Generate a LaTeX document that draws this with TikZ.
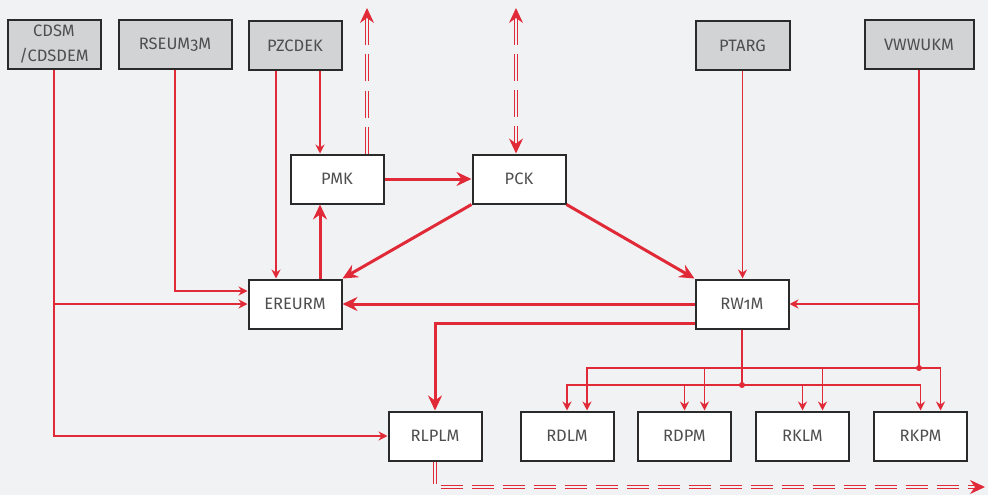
\documentclass[tikz,border=0pt]{standalone}
\usepackage{fontspec}
\setmainfont{Fira Sans}[Numbers=OldStyle]
\usetikzlibrary{arrows.meta,calc}
\definecolor{bgc}{HTML}{F1F2F4}
\definecolor{srcfill}{HTML}{D2D3D5}
\definecolor{boxline}{HTML}{2A2A2A}
\definecolor{lred}{HTML}{E12A38}
\definecolor{txt}{HTML}{4E4E4E}
\begin{document}
\begin{tikzpicture}[x=1pt,y=-1pt,
  box/.style={draw=boxline, line width=2pt, fill=white, minimum width=93pt,
    minimum height=49pt, inner sep=0pt, text=txt, align=center,
    font=\fontsize{16.5}{25}\selectfont},
  srcbox/.style={box, fill=srcfill},
  wire/.style={draw=lred, line width=1.4pt},
  feed/.style={wire, -{Stealth[length=9pt,width=9pt,inset=3pt]}},
  main/.style={draw=lred, line width=3pt},
  mainarr/.style={main, -{Stealth[length=15pt,width=14pt,inset=5pt]}},
  ext/.style={draw=lred, line width=1.2pt, double=bgc, double distance=1.1pt,
    dash pattern=on 27pt off 9pt},
  exttip/.style={-{Stealth[length=15pt,width=14pt,inset=5pt]}},
  extboth/.style={{Stealth[length=15pt,width=14pt,inset=5pt]}-{Stealth[length=15pt,width=14pt,inset=5pt]}},
  junction/.style={fill=lred},
]
% canvas
\fill[bgc] (0,0) rectangle (988,495);

% source boxes
\node[srcbox, minimum width=93pt] (cdsm) at (54,44.5) {CDSM\\/CDSDEM};
\node[srcbox, minimum width=113pt] (rseum) at (175,44.5) {RSEUM3M};
\node[srcbox] (pzcdek) at (295,45.5) {PZCDEK};
\node[srcbox, minimum width=94pt] (ptarg) at (742.5,45.5) {PTARG};
\node[srcbox, minimum width=109pt] (vwwukm) at (919,44.5) {VWWUKM};

% process boxes
\node[box] (pmk) at (337,179) {PMK};
\node[box] (pck) at (519,179) {PCK};
\node[box] (ereurm) at (295,304) {EREURM};
\node[box] (rw1m) at (742,304) {RW1M};
\node[box] (rlplm) at (435,436) {RLPLM};
\node[box] (rdlm) at (567,436) {RDLM};
\node[box] (rdpm) at (684.5,436) {RDPM};
\node[box] (rklm) at (802.5,436) {RKLM};
\node[box] (rkpm) at (920.5,436) {RKPM};

% free ends and junctions
\coordinate (pmkup) at (367,8);
\coordinate (pckup) at (516,8);
\coordinate (outend) at (985,487);
\coordinate (rdot) at (742,385);
\coordinate (vdot) at (919,368);

% thin feeds from the sources
\draw[feed] (cdsm.south) |- (rlplm.west);
\draw[feed] (cdsm.south |- ereurm.west) -- (ereurm.west);
\draw[feed] (rseum.south) |- ($(ereurm.west)+(0,-13)$);
\draw[feed] ($(pzcdek.south)+(-19,0)$) -- ($(ereurm.north)+(-19,0)$);
\draw[feed] ($(pzcdek.south)+(25,0)$) -- ($(pmk.north)+(-17,0)$);
\draw[feed] (ptarg.south) -- (ptarg.south |- rw1m.north);
\draw[wire] (vwwukm.south) -- (vdot);
\draw[feed] (vwwukm.south |- rw1m.east) -- (rw1m.east);

% main flow
\draw[mainarr] (pmk.east) -- (pck.west);
\draw[mainarr] ($(ereurm.north)+(25,0)$) -- ($(pmk.south)+(-17,0)$);
\draw[mainarr] (pck.south west) -- (ereurm.north east);
\draw[mainarr] (pck.south east) -- (rw1m.north west);
\draw[mainarr] (rw1m.west) -- (ereurm.east);
\draw[mainarr] ($(rw1m.west)+(0,19)$) -| (rlplm.north);

% distribution buses
\draw[wire] (rw1m.south) -- (rdot);
\draw[feed] (rdot) -| (rdlm.north);
\draw[feed] (rdot) -| (rdpm.north);
\draw[feed] (rdot) -| (rklm.north);
\draw[feed] (rdot) -| (rkpm.north);
\draw[feed] (vdot) -| ($(rdlm.north)+(20,0)$);
\draw[feed] (vdot) -| ($(rdpm.north)+(20,0)$);
\draw[feed] (vdot) -| ($(rklm.north)+(20,0)$);
\draw[feed] (vdot) -| ($(rkpm.north)+(20,0)$);
\fill[junction] (rdot) circle (3pt);
\fill[junction] (vdot) circle (3pt);

% external links
\draw[ext, exttip] ($(pmk.north)+(30,0)$) -- (pmkup);
\draw[ext, extboth] (pckup) -- ($(pck.north)+(-3,0)$);
\draw[ext, dash pattern=on 22pt off 9pt, exttip] (rlplm.south) |- (outend);
\end{tikzpicture}
\end{document}
